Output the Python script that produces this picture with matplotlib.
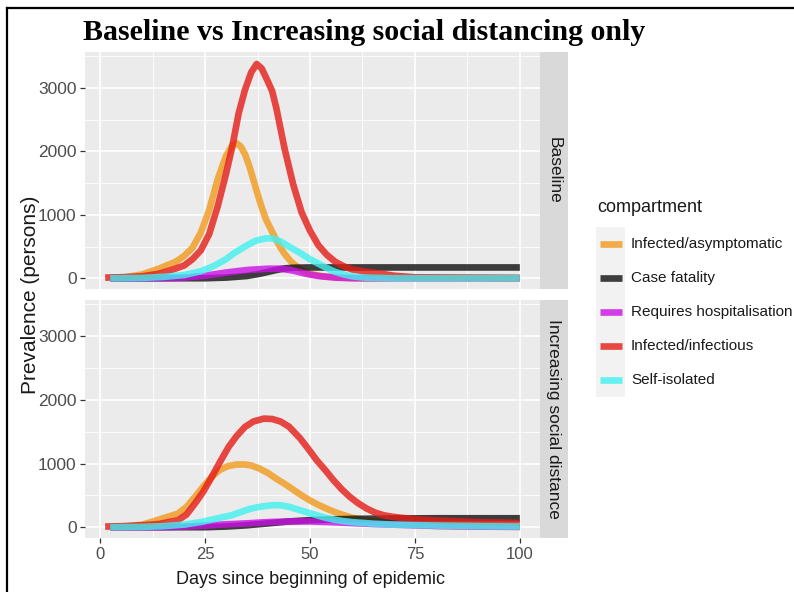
import matplotlib
matplotlib.use('Agg')
import matplotlib.pyplot as plt
from matplotlib.lines import Line2D
from matplotlib.patches import Rectangle

# ---------------- data ----------------
compartments = ["Infected/asymptomatic", "Case fatality", "Requires hospitalisation",
                "Infected/infectious", "Self-isolated"]
colors = ["#F19A1D", "#101010", "#CC10E5", "#E51D16", "#42F1F1"]
facets = ["Baseline", "Increasing social distance"]

# Baseline
base_asym_days = [2.4, 6, 10, 14, 18, 20, 22, 24, 26, 28, 30, 31.5, 32.5, 33.5, 34.5, 35.5, 36.5, 37.5, 38.5, 39.5,
                  41, 42, 43, 44, 45, 46, 48, 50, 53, 57, 62, 100]
base_asym = [0, 15, 60, 150, 260, 350, 480, 720, 1080, 1560, 1930, 2100, 2130, 2080, 1960, 1780, 1560,
             1330, 1120, 930, 730, 600, 480, 380, 300, 230, 130, 70, 30, 10, 0, 0]
base_fatal_days = [2.4, 25, 30, 35, 38, 40, 42, 44, 46, 50, 100]
base_fatal = [0, 0, 10, 35, 70, 100, 130, 155, 165, 170, 170]
base_hosp_days = [2.4, 15, 20, 25, 30, 35, 40, 43, 46, 49, 52, 56, 60, 100]
base_hosp = [0, 0, 10, 40, 90, 130, 150, 150, 120, 70, 35, 10, 0, 0]
base_inf_days = [1.2, 5, 10, 14, 17, 20, 22, 24, 26, 28, 30, 31.5, 33, 34.5, 36, 37.3, 38.5, 40, 41, 42,
                 44, 46, 48, 50, 52, 54, 56, 58, 60, 63, 66, 70, 75, 100]
base_inf = [10, 15, 30, 70, 130, 200, 300, 440, 700, 1130, 1650, 2080, 2600, 2970, 3250, 3380, 3310,
            3100, 2950, 2680, 2030, 1480, 1040, 750, 520, 370, 260, 190, 140, 105, 80, 40, 15, 5]
base_iso_days = [2.4, 10, 15, 20, 24, 27, 30, 32, 34.5, 37, 39.5, 41, 43, 45, 47.6, 50, 52, 54, 56, 58,
                 60, 63, 70, 100]
base_iso = [0, 5, 20, 50, 110, 190, 300, 400, 500, 590, 630, 630, 580, 500, 400, 300, 230, 160, 100, 60,
            30, 10, 0, 0]

# Increasing social distance
sd_asym_days = [2.4, 6, 10, 12.3, 15, 18.6, 20.6, 22.6, 24.6, 26.6, 28.5, 30.5, 32.5, 34.5, 36, 38, 40,
                42, 44, 46, 48, 50, 52, 54, 56, 58, 60, 63, 66, 70, 75, 80, 90, 100]
sd_asym = [0, 10, 40, 83, 140, 215, 320, 476, 640, 790, 900, 960, 985, 985, 970, 920, 850, 760, 680,
           590, 500, 420, 350, 290, 235, 190, 150, 110, 80, 55, 35, 20, 10, 5]
sd_fatal_days = [2.4, 25, 30, 35, 40, 45, 50, 55, 60, 70, 80, 100]
sd_fatal = [0, 0, 10, 30, 60, 90, 110, 122, 130, 137, 140, 140]
sd_hosp_days = [2.4, 15, 20, 25, 30, 35, 40, 45, 50, 55, 60, 65, 70, 75, 80, 90, 100]
sd_hosp = [0, 0, 10, 25, 45, 60, 80, 90, 90, 80, 65, 50, 40, 30, 20, 10, 5]
sd_inf_days = [1.2, 5, 10, 14, 18.6, 20.6, 22.6, 24.6, 26.6, 28.6, 30.6, 32.5, 34.5, 36.5, 39, 41, 43,
               45, 47.6, 49.6, 51.6, 53.6, 55.6, 57.5, 59.5, 61.5, 63.5, 65.5, 67.5, 69.5, 71.4, 75, 80,
               90, 100]
sd_inf = [10, 15, 30, 50, 110, 200, 372, 560, 790, 1030, 1260, 1430, 1575, 1660, 1706, 1700, 1660,
          1580, 1400, 1230, 1052, 900, 738, 600, 476, 375, 293, 230, 188, 165, 150, 125, 105, 80, 65]
sd_iso_days = [2.4, 10, 15, 20, 24.2, 28, 31.4, 34, 36, 38, 41, 43, 45, 47.6, 50, 51.6, 53.6, 55.6, 58,
               60, 65, 70, 80, 90, 100]
sd_iso = [0, 5, 15, 40, 83, 140, 188, 250, 293, 320, 345, 345, 320, 267, 220, 188, 150, 120, 95, 80,
          55, 40, 25, 15, 10]

panel_series = [
    [(base_asym_days, base_asym), (base_fatal_days, base_fatal), (base_hosp_days, base_hosp),
     (base_inf_days, base_inf), (base_iso_days, base_iso)],
    [(sd_asym_days, sd_asym), (sd_fatal_days, sd_fatal), (sd_hosp_days, sd_hosp),
     (sd_inf_days, sd_inf), (sd_iso_days, sd_iso)],
]

x_ticks = [0, 25, 50, 75, 100]
y_ticks = [0, 1000, 2000, 3000]

# ---------------- figure ----------------
W, H = 794, 592
fig = plt.figure(figsize=(W / 100, H / 100), dpi=100)
fig.patch.set_facecolor('white')


def rect(x0, y0, x1, y1):
    return [x0 / W, 1 - y1 / H, (x1 - x0) / W, (y1 - y0) / H]


SANS = ['Liberation Sans', 'DejaVu Sans']
ALPHA = 0.8
LW = 4.8

panel_px = [(52, 289), (300, 538)]
for i, (top, bot) in enumerate(panel_px):
    ax = fig.add_axes(rect(85, top, 540, bot))
    ax.set_facecolor('#EBEBEB')
    for s in ax.spines.values():
        s.set_visible(False)
    ax.set_xlim(-3.6, 104.8)
    ax.set_ylim(-170, 3570)
    ax.set_xticks(x_ticks)
    ax.set_xticks([12.5, 37.5, 62.5, 87.5], minor=True)
    ax.set_yticks(y_ticks)
    ax.set_yticks([500, 1500, 2500, 3500], minor=True)
    ax.set_yticklabels([str(v) for v in y_ticks])
    ax.grid(which='major', color='white', lw=1.2)
    ax.grid(which='minor', color='white', lw=0.6)
    ax.set_axisbelow(True)
    ax.tick_params(which='minor', length=0)
    ax.tick_params(axis='y', which='major', length=3.5, width=0.9, color='#333333',
                   labelcolor='#4D4D4D', labelsize=12.5, pad=2.5)
    if i == 0:
        ax.tick_params(axis='x', which='major', length=0, labelbottom=False)
    else:
        ax.set_xticklabels([str(v) for v in x_ticks])
        ax.tick_params(axis='x', which='major', length=3.5, width=0.9, color='#333333',
                       labelcolor='#4D4D4D', labelsize=12, pad=3)
    for lab in ax.get_xticklabels() + ax.get_yticklabels():
        lab.set_family(SANS)
    for (d, v), c in zip(panel_series[i], colors):
        ax.plot(d, v, color=c, lw=LW, alpha=ALPHA, solid_capstyle='butt', solid_joinstyle='round')

    sax = fig.add_axes(rect(540, top, 568, bot))
    sax.set_facecolor('#D9D9D9')
    sax.set_xticks([])
    sax.set_yticks([])
    for s in sax.spines.values():
        s.set_visible(False)
    sax.text(0.5, 0.5, facets[i], rotation=-90, ha='center', va='center', color='#1A1A1A',
             fontsize=12.5, family=SANS, transform=sax.transAxes)

# title
fig.text(83 / W, 1 - 32 / H, "Baseline vs Increasing social distancing only",
         family=['Liberation Serif', 'DejaVu Serif'],
         weight='bold', fontsize=21.5, ha='left', va='center', color='black')

# axis labels
fig.text(30 / W, 1 - 295 / H, "Prevalence (persons)", rotation=90, ha='center', va='center',
         fontsize=15, family=SANS, color='#1A1A1A')
fig.text(311 / W, 1 - 580 / H, "Days since beginning of epidemic", ha='center', va='center',
         fontsize=13, family=SANS, color='#1A1A1A')

# legend
fig.text(597 / W, 1 - 208 / H, "compartment", ha='left', va='center', fontsize=13, family=SANS,
         color='#1A1A1A')
key_centers = [244, 278, 312, 346, 380]
for name, c, yc in zip(compartments, colors, key_centers):
    fig.patches.append(Rectangle((596 / W, 1 - (yc + 17) / H), 29 / W, 34 / H, transform=fig.transFigure,
                                 facecolor='#F2F2F2', edgecolor='none'))
    fig.lines.append(Line2D([600 / W, 622 / W], [1 - yc / H] * 2, transform=fig.transFigure, color=c,
                            lw=LW, alpha=ALPHA, solid_capstyle='butt'))
    fig.text(631 / W, 1 - yc / H, name, ha='left', va='center', fontsize=11, family=SANS, color='#1A1A1A')

# frame lines of the screenshot
fig.lines.append(Line2D([7 / W, 7 / W], [1 - 8 / H, 0], transform=fig.transFigure, color='black', lw=1.6))
fig.lines.append(Line2D([7 / W, 1], [1 - 8 / H, 1 - 8 / H], transform=fig.transFigure, color='black', lw=1.6))

fig.savefig('out.png', dpi=100)
